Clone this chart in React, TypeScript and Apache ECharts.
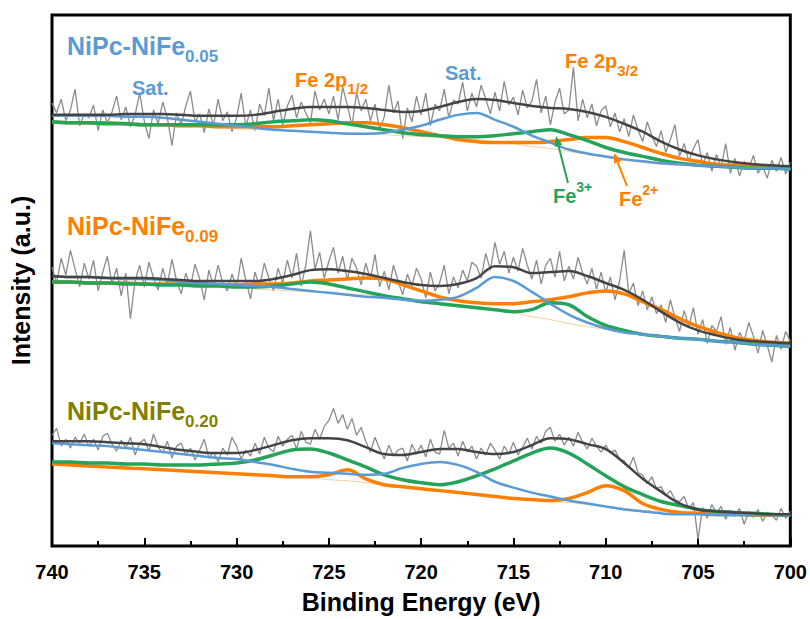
import React, { useEffect, useRef } from "react";
import * as echarts from "echarts";

// ---------- data (binding energy in eV, intensity in arbitrary units, spectra stacked) ----------
const FIT_START = 740; // fitted curves sampled every 1 eV from 740 down to 700
const FIT_STEP = 1;
const RAW_START = 740; // raw spectra sampled every 0.25 eV from 740 down to 700
const RAW_STEP = 0.25;

// NiPc-NiFe0.05 (top)
const RAW_005 = [
  448, 438, 452, 430, 441, 462, 425, 437, 433, 446, 420, 441, 428, 439, 455, 431, 444, 424, 436, 458,
  430, 412, 441, 427, 449, 433, 405, 438, 426, 445, 460, 429, 437, 418, 442, 425, 452, 430, 439, 419,
  433, 458, 424, 441, 420, 447, 435, 463, 430, 452, 426, 445, 456, 433, 449, 438, 428, 460, 441, 452,
  437, 455, 431, 464, 446, 425, 458, 440, 452, 430, 447, 421, 434, 466, 438, 450, 412, 443, 429, 455,
  436, 458, 425, 447, 440, 462, 433, 451, 447, 469, 440, 458, 444, 466, 452, 437, 459, 440, 470, 446,
  454, 436, 461, 443, 450, 472, 438, 455, 426, 449, 463, 437, 441, 484, 430, 452, 433, 447, 425, 440,
  445, 424, 438, 419, 432, 414, 436, 421, 409, 429, 415, 404, 420, 398, 411, 426, 394, 407, 389, 402,
  411, 385, 398, 379, 396, 383, 407, 377, 392, 374, 389, 381, 395, 377, 384, 372, 390, 379, 393, 376,
  388,
];
const ENV_005 = [436, 436, 436, 436, 437, 437, 437, 436, 435, 435, 435, 436, 439, 442, 444, 444, 444, 443, 441, 439, 440, 444, 449, 452, 451, 448, 445, 443, 442, 439, 434, 427, 419, 409, 401, 395, 391, 388, 386, 385, 384];
const SAT_005 = [435, 435, 435, 435, 434, 434, 433, 431, 429, 427, 425, 423, 421, 420, 419, 418, 417, 417, 418, 421, 425, 431, 436, 438, 431, 424, 415, 408, 401, 397, 394, 391, 389, 387, 386, 385, 384, 383, 382, 382, 381];
const FE3_005 = [429, 428, 428, 427, 427, 426, 426, 426, 426, 426, 426, 427, 429, 430, 431, 430, 427, 424, 421, 418, 416, 415, 414, 414, 415, 417, 419, 421, 416, 410, 403, 398, 394, 390, 387, 385, 384, 383, 382, 382, 381];
const FE2_005 = [429, 428, 428, 428, 427, 426, 426, 425, 425, 424, 424, 424, 424, 425, 426, 427, 428, 428, 426, 423, 419, 415, 411, 409, 408, 408, 408, 409, 411, 413, 413, 409, 403, 397, 392, 389, 386, 385, 384, 383, 382];
const BG_005 = [429, 428, 428, 427, 426, 426, 425, 424, 424, 423, 422, 421, 421, 420, 419, 418, 418, 417, 416, 415, 414, 413, 412, 411, 409, 407, 404, 402, 399, 396, 393, 390, 388, 386, 385, 384, 383, 382, 382, 381, 381];

// NiPc-NiFe0.09 (middle)
const RAW_009 = [
  282, 266, 291, 274, 299, 280, 262, 286, 270, 289, 258, 277, 293, 265, 281, 253, 276, 230, 268, 284,
  262, 287, 271, 259, 281, 264, 290, 268, 255, 276, 262, 285, 270, 249, 279, 263, 284, 266, 258, 275,
  261, 291, 269, 250, 277, 262, 286, 271, 258, 281, 266, 289, 271, 296, 263, 284, 319, 280, 297, 271,
  288, 302, 276, 293, 269, 291, 281, 264, 286, 270, 295, 262, 278, 259, 284, 268, 254, 275, 263, 281,
  270, 251, 277, 258, 266, 284, 255, 272, 261, 279, 268, 287, 283, 271, 296, 279, 307, 285, 298, 276,
  292, 278, 301, 284, 270, 289, 265, 284, 291, 272, 298, 268, 283, 270, 292, 276, 265, 281, 260, 277,
  256, 272, 249, 268, 299, 255, 266, 243, 258, 239, 252, 235, 244, 226, 249, 231, 217, 238, 222, 241,
  214, 229, 205, 223, 217, 232, 204, 221, 198, 216, 207, 226, 212, 195, 218, 203, 186, 213, 199, 217,
  207,
];
const ENV_009 = [273, 272, 272, 271, 271, 271, 270, 269, 268, 268, 268, 268, 270, 274, 279, 280, 278, 275, 271, 267, 264, 263, 265, 271, 283, 282, 276, 277, 278, 273, 266, 259, 249, 237, 226, 218, 213, 209, 207, 206, 205];
const SAT_009 = [273, 272, 272, 271, 270, 270, 269, 267, 266, 265, 264, 263, 262, 260, 258, 256, 254, 252, 251, 249, 248, 249, 252, 261, 272, 268, 257, 245, 234, 226, 220, 216, 214, 212, 210, 209, 207, 206, 204, 203, 202];
const FE2_009 = [267, 267, 266, 266, 266, 265, 265, 265, 264, 264, 264, 265, 265, 266, 268, 269, 270, 271, 270, 264, 258, 252, 248, 246, 245, 245, 247, 249, 252, 256, 258, 255, 247, 239, 230, 222, 216, 211, 208, 206, 205];
const FE3_009 = [267, 267, 266, 266, 265, 265, 264, 264, 263, 263, 262, 262, 263, 265, 267, 265, 261, 257, 253, 250, 247, 245, 243, 241, 239, 237, 239, 246, 244, 232, 223, 218, 214, 212, 210, 209, 207, 206, 204, 203, 202];
const BG_009 = [267, 267, 266, 266, 265, 265, 264, 264, 263, 262, 261, 260, 259, 258, 257, 256, 255, 254, 252, 250, 248, 246, 244, 242, 239, 236, 232, 229, 225, 222, 219, 217, 214, 212, 210, 209, 207, 206, 204, 203, 202];

// NiPc-NiFe0.20 (bottom)
const RAW_020 = [
  112, 119, 101, 108, 99, 110, 104, 113, 101, 108, 97, 111, 114, 103, 96, 107, 99, 110, 92, 104,
  108, 96, 113, 100, 94, 106, 89, 101, 104, 92, 99, 87, 97, 108, 89, 95, 85, 99, 92, 110,
  101, 88, 97, 91, 104, 93, 110, 99, 95, 111, 101, 108, 112, 98, 116, 105, 103, 118, 108, 121,
  127, 139, 124, 133, 118, 129, 112, 120, 106, 95, 110, 98, 88, 102, 91, 97, 99, 86, 103, 93,
  102, 90, 108, 95, 93, 117, 99, 104, 91, 106, 95, 101, 88, 99, 92, 104, 97, 88, 101, 93,
  105, 92, 100, 109, 98, 111, 104, 116, 120, 106, 113, 102, 110, 101, 115, 105, 98, 109, 101, 95,
  102, 94, 97, 88, 86, 79, 90, 74, 72, 63, 70, 58, 60, 51, 56, 47, 45, 50, 38, 44,
  7, 39, 28, 42, 33, 40, 27, 36, 30, 38, 22, 35, 29, 37, 25, 34, 31, 26, 38, 28,
  35,
];
const ENV_020 = [106, 106, 106, 105, 104, 103, 100, 97, 95, 94, 94, 97, 102, 107, 109, 109, 107, 100, 93, 92, 95, 98, 98, 95, 93, 95, 102, 109, 108, 103, 98, 84, 68, 55, 43, 37, 35, 34, 33, 32, 32];
const SAT_020 = [104, 103, 102, 101, 99, 97, 95, 93, 91, 89, 88, 85, 82, 78, 75, 74, 73, 72, 73, 79, 83, 85, 82, 75, 65, 59, 54, 50, 46, 43, 40, 37, 35, 33, 32, 32, 31, 31, 31, 31, 31];
const FE3_020 = [85, 85, 84, 84, 83, 83, 82, 82, 82, 83, 84, 87, 92, 97, 98, 94, 87, 80, 72, 67, 64, 62, 65, 71, 78, 86, 94, 99, 94, 83, 71, 60, 52, 45, 41, 37, 35, 34, 33, 32, 31];
const FE2_020 = [83, 82, 81, 80, 79, 78, 77, 76, 75, 74, 73, 72, 71, 70, 70, 72, 77, 68, 62, 60, 58, 56, 54, 52, 50, 48, 47, 46, 48, 54, 61, 56, 43, 37, 34, 33, 32, 32, 31, 31, 31];
const BG_020 = [83, 82, 81, 80, 79, 78, 77, 76, 75, 74, 73, 72, 71, 70, 69, 67, 66, 64, 62, 60, 58, 56, 54, 52, 50, 48, 47, 45, 44, 42, 40, 38, 36, 35, 34, 33, 32, 32, 31, 31, 31];

const X_MIN = 700;
const X_MAX = 740;
const X_INTERVAL = 5;
const Y_MIN = 0;
const Y_MAX = 537;

// ---------- styles ----------
const FONT = '"Liberation Sans", Arial, Helvetica, sans-serif';
const BLUE = "#5b9bd5";
const ORANGE = "#ff8000";
const GREEN = "#26a35b";
const OLIVE = "#808000";
const DARK = "#444444";
const GRAY = "#8c8c8c";
const BGLINE = "#f5c58a";

const pair = (vals: number[], start: number, step: number) =>
  vals.map((v, i) => [start - i * step, v]);

function spectrumSeries(raw: number[], bg: number[], fe2: number[], fe3: number[], sat: number[], env: number[]) {
  const common = { type: "line", showSymbol: false, symbol: "none", silent: true };
  return [
    { ...common, data: pair(raw, RAW_START, RAW_STEP), lineStyle: { color: GRAY, width: 1.3 }, itemStyle: { color: GRAY } },
    { ...common, smooth: 0.35, data: pair(bg, FIT_START, FIT_STEP), lineStyle: { color: BGLINE, width: 0.8 }, itemStyle: { color: BGLINE } },
    { ...common, smooth: 0.35, data: pair(fe2, FIT_START, FIT_STEP), lineStyle: { color: ORANGE, width: 3.5 }, itemStyle: { color: ORANGE } },
    { ...common, smooth: 0.35, data: pair(fe3, FIT_START, FIT_STEP), lineStyle: { color: GREEN, width: 3.5 }, itemStyle: { color: GREEN } },
    { ...common, smooth: 0.35, data: pair(sat, FIT_START, FIT_STEP), lineStyle: { color: BLUE, width: 2.5 }, itemStyle: { color: BLUE } },
    { ...common, smooth: 0.35, data: pair(env, FIT_START, FIT_STEP), lineStyle: { color: DARK, width: 2.5 }, itemStyle: { color: DARK } },
  ];
}

const mainTok = (size: number, color: string, lh: number) => ({
  fontSize: size, fontWeight: "bold", fontFamily: FONT, fill: color, color, lineHeight: lh, verticalAlign: "middle",
});
const subTok = (size: number, color: string, va: string) => ({
  fontSize: size, fontWeight: "bold", fontFamily: FONT, fill: color, color, lineHeight: size, verticalAlign: va,
});

function richLabel(x: number, y: number, main: string, sub: string, color: string, size: number, subSize: number, lh: number, va: string) {
  return {
    type: "text", x, y, z: 100,
    style: {
      text: `{m|${main}}{s|${sub}}`,
      rich: { m: mainTok(size, color, lh), s: subTok(subSize, color, va) },
      align: "left", textAlign: "left", verticalAlign: "middle", textVerticalAlign: "middle",
    },
  };
}

function plainLabel(x: number, y: number, text: string, color: string, size: number) {
  return {
    type: "text", x, y, z: 100,
    style: {
      text, fill: color, fontSize: size, fontWeight: "bold", fontFamily: FONT,
      align: "left", textAlign: "left", verticalAlign: "middle", textVerticalAlign: "middle",
    },
  };
}

function arrow(x1: number, y1: number, x2: number, y2: number, color: string) {
  const dx = x2 - x1, dy = y2 - y1;
  const len = Math.sqrt(dx * dx + dy * dy);
  const ux = dx / len, uy = dy / len;
  const hl = 10, hw = 4;
  const bx = x2 - ux * hl, by = y2 - uy * hl;
  return [
    { type: "line", z: 100, shape: { x1, y1, x2: bx, y2: by }, style: { stroke: color, lineWidth: 2 } },
    {
      type: "polygon", z: 100,
      shape: { points: [[x2, y2], [bx - uy * hw, by + ux * hw], [bx + uy * hw, by - ux * hw]] },
      style: { fill: color },
    },
  ];
}

export default function App() {
  const ref = useRef<HTMLDivElement>(null);
  useEffect(() => {
    document.body.style.margin = "0";
    if (!ref.current) return;
    const chart = echarts.init(ref.current, undefined, { renderer: "svg" });
    chart.setOption({
      animation: false,
      backgroundColor: "#ffffff",
      grid: { left: 51, right: 18, top: 15, bottom: 67, show: true, borderColor: "#000", borderWidth: 3, backgroundColor: "transparent" },
      xAxis: {
        type: "value", min: X_MIN, max: X_MAX, interval: X_INTERVAL, inverse: true,
        name: "Binding Energy (eV)", nameLocation: "middle", nameGap: 43,
        nameTextStyle: { fontSize: 25, fontWeight: "bold", color: "#000", fontFamily: FONT },
        axisLine: { show: false },
        axisTick: { show: true, inside: true, length: 8, lineStyle: { width: 2, color: "#000" } },
        minorTick: { show: true, splitNumber: 2, length: 5, lineStyle: { width: 2, color: "#000" } },
        axisLabel: { fontSize: 20, fontWeight: "bold", color: "#000", margin: 16, fontFamily: FONT },
        splitLine: { show: false },
        minorSplitLine: { show: false },
      },
      yAxis: {
        type: "value", min: Y_MIN, max: Y_MAX,
        name: "Intensity (a.u.)", nameLocation: "middle", nameGap: 19,
        nameTextStyle: { fontSize: 25, fontWeight: "bold", color: "#000", fontFamily: FONT },
        axisLine: { show: false }, axisTick: { show: false }, axisLabel: { show: false }, splitLine: { show: false },
      },
      series: [
        ...spectrumSeries(RAW_005, BG_005, FE2_005, FE3_005, SAT_005, ENV_005),
        ...spectrumSeries(RAW_009, BG_009, FE2_009, FE3_009, SAT_009, ENV_009),
        ...spectrumSeries(RAW_020, BG_020, FE2_020, FE3_020, SAT_020, ENV_020),
      ],
      graphic: [
        richLabel(67, 46, "NiPc-NiFe", "0.05", BLUE, 25, 17, 37, "bottom"),
        richLabel(67, 226, "NiPc-NiFe", "0.09", ORANGE, 25, 17, 37, "bottom"),
        richLabel(67, 411, "NiPc-NiFe", "0.20", OLIVE, 25, 17, 37, "bottom"),
        plainLabel(132, 88, "Sat.", BLUE, 20),
        plainLabel(445, 73, "Sat.", BLUE, 20),
        richLabel(295, 80, "Fe 2p", "1/2", ORANGE, 20, 15, 32, "bottom"),
        richLabel(565, 61, "Fe 2p", "3/2", ORANGE, 20, 15, 33, "bottom"),
        richLabel(553, 196, "Fe", "3+", GREEN, 20, 14, 33, "top"),
        richLabel(619, 199, "Fe", "2+", ORANGE, 20, 14, 33, "top"),
        ...arrow(568, 183, 556, 136, GREEN),
        ...arrow(627, 186, 614, 153, ORANGE),
      ],
    });
    return () => chart.dispose();
  }, []);
  return <div ref={ref} style={{ position: "fixed", left: 0, top: 0, width: 810, height: 619 }} />;
}
